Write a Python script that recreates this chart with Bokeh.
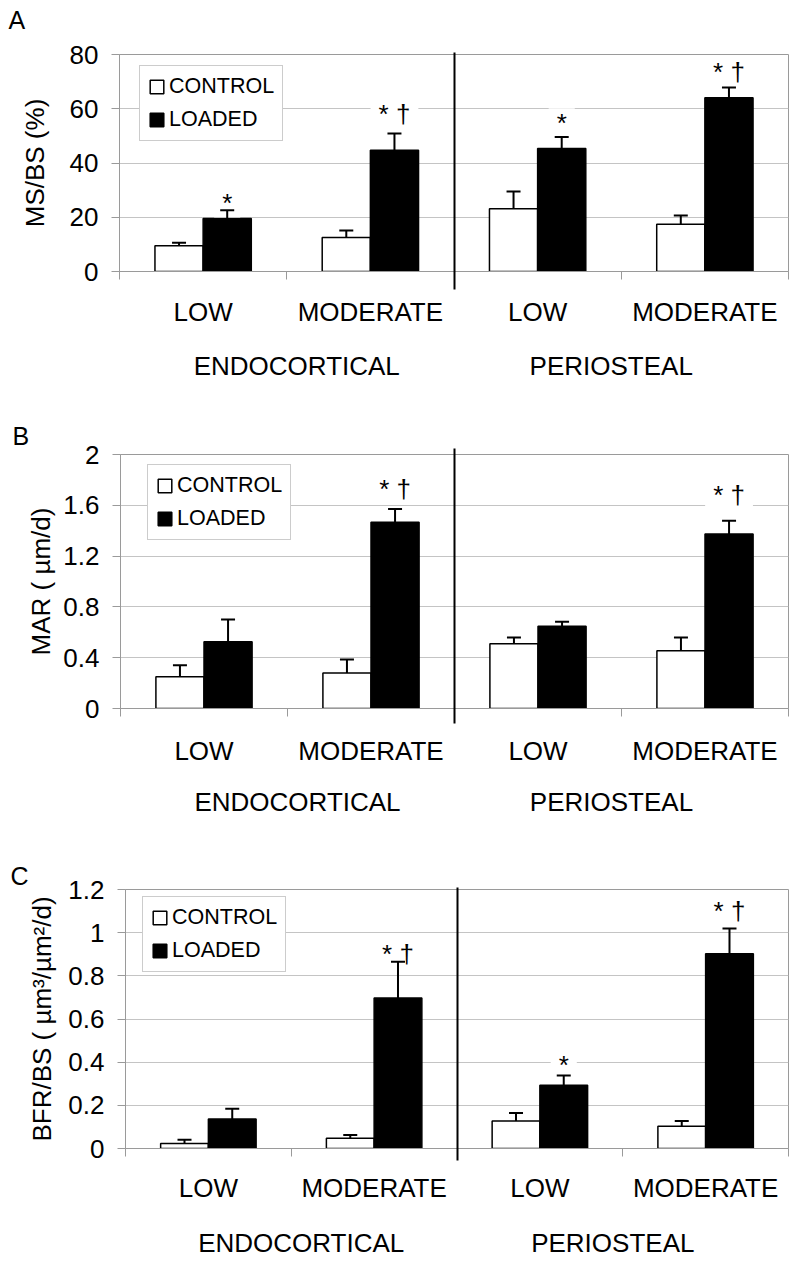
from bokeh.plotting import figure
from bokeh.models import (ColumnDataSource, FixedTicker, Whisker, TeeHead,
                          Legend, LegendItem, Range1d, LinearAxis)
from bokeh.embed import file_html
from bokeh.resources import INLINE
from bokeh.core.properties import value

FONT = "Liberation Sans"
GREY = "#9a9a9a"

# ---------------- data ----------------
locations = ["ENDOCORTICAL", "PERIOSTEAL"]
intensities = ["LOW", "MODERATE"]
groups = ["CONTROL", "LOADED"]
bar_labels = ["LOW", "MODERATE", "LOW", "MODERATE"]

# Panel A: MS/BS (%)
msbs_control = [9.5, 12.5, 23.1, 17.4]
msbs_control_err = [1.1, 2.6, 6.4, 3.2]
msbs_loaded = [19.5, 44.7, 45.3, 64.1]
msbs_loaded_err = [3.1, 6.2, 4.3, 3.7]
msbs_ticks = [0, 20, 40, 60, 80]
msbs_tick_labels = ["0", "20", "40", "60", "80"]
msbs_mark_idx = [0, 1, 2, 3]
msbs_marks = ["*", "* †", "*", "* †"]
msbs_mark_y = [27.3, 60.1, 56.9, 75.9]

# Panel B: MAR (um/d)
mar_control = [0.25, 0.28, 0.51, 0.455]
mar_control_err = [0.09, 0.105, 0.05, 0.105]
mar_loaded = [0.525, 1.466, 0.647, 1.374]
mar_loaded_err = [0.175, 0.105, 0.037, 0.105]
mar_ticks = [0, 0.4, 0.8, 1.2, 1.6, 2]
mar_tick_labels = ["0", "0.4", "0.8", "1.2", "1.6", "2"]
mar_mark_idx = [1, 3]
mar_marks = ["* †", "* †"]
mar_mark_y = [1.774, 1.729]

# Panel C: BFR/BS
bfr_control = [0.023, 0.048, 0.127, 0.103]
bfr_control_err = [0.017, 0.015, 0.038, 0.024]
bfr_loaded = [0.137, 0.697, 0.293, 0.902]
bfr_loaded_err = [0.047, 0.168, 0.045, 0.117]
bfr_ticks = [0, 0.2, 0.4, 0.6, 0.8, 1.0, 1.2]
bfr_tick_labels = ["0", "0.2", "0.4", "0.6", "0.8", "1", "1.2"]
bfr_mark_idx = [1, 2, 3]
bfr_marks = ["* †", "*", "* †"]
bfr_mark_y = [0.927, 0.416, 1.126]

# group label positions (x, in category units)
location_x = [1.06, 2.94]


def make_panel(letter, ylabel, control, control_err, loaded, loaded_err,
               ticks, tick_labels, mark_idx, marks, mark_y,
               height, border_left, border_top, border_bottom, frame_h,
               label_standoff, legend_loc, div_below, div_above,
               title_offset, title_standoff, title_spacer,
               cat_standoff, loc_standoff):
    ymax = ticks[-1]
    p = figure(width=800, height=height, output_backend="svg", toolbar_location=None,
               x_range=Range1d(0, 4), y_range=Range1d(0, ymax),
               min_border_left=border_left, min_border_right=12,
               min_border_top=border_top, min_border_bottom=border_bottom)
    p.outline_line_color = GREY
    p.outline_line_width = 1
    p.background_fill_color = "white"
    p.xgrid.visible = False
    p.ygrid.grid_line_color = "#c4c4c4"
    p.ygrid.grid_line_width = 1

    # default axes (grab them before adding extra ones)
    xa = p.below[0]
    ya = p.left[0]

    # panel letter
    p.title.text = letter
    p.title.text_font = FONT
    p.title.text_font_size = "25px"
    p.title.text_font_style = "normal"
    p.title.text_color = "black"
    p.title.align = "left"
    p.title.offset = title_offset
    p.title.standoff = title_standoff
    if title_spacer:
        # invisible axis that lifts the panel letter away from the frame
        spacer = LinearAxis(ticker=FixedTicker(ticks=[2]), major_label_overrides={2: ""},
                            major_tick_out=title_spacer, major_tick_in=0,
                            axis_line_color=None, major_tick_line_color=None,
                            minor_tick_line_color=None,
                            major_label_text_font_size="1px", major_label_standoff=0)
        p.add_layout(spacer, "above")

    # y axis
    ya.ticker = FixedTicker(ticks=ticks)
    ya.major_label_overrides = {t: s for t, s in zip(ticks, tick_labels)}
    ya.axis_label = ylabel
    ya.axis_label_text_font = FONT
    ya.axis_label_text_font_size = "26px"
    ya.axis_label_text_font_style = "normal"
    ya.axis_label_text_color = "black"
    ya.axis_label_standoff = label_standoff
    ya.major_label_text_font = FONT
    ya.major_label_text_font_size = "26px"
    ya.major_label_text_color = "black"
    ya.major_label_standoff = 13
    ya.axis_line_color = GREY
    ya.major_tick_line_color = GREY
    ya.major_tick_out = 8
    ya.major_tick_in = 0
    ya.minor_tick_line_color = None

    # x axis: grey boundary ticks (minor) + black divider (major tick through the frame)
    xa.ticker = FixedTicker(ticks=[2], minor_ticks=[0, 1, 3, 4])
    xa.major_label_overrides = {2: ""}
    xa.major_label_text_font_size = "1px"
    xa.major_label_standoff = 0
    xa.axis_line_color = GREY
    xa.major_tick_line_color = "black"
    xa.major_tick_line_width = 2
    xa.major_tick_out = div_below
    xa.major_tick_in = frame_h + div_above
    xa.minor_tick_line_color = GREY
    xa.minor_tick_out = 8
    xa.minor_tick_in = 0

    centers = [i + 0.5 for i in range(len(control))]

    # category labels (LOW / MODERATE)
    xc = LinearAxis(ticker=FixedTicker(ticks=centers),
                    major_label_overrides={c: s for c, s in zip(centers, bar_labels)},
                    major_label_text_font=FONT, major_label_text_font_size="26px",
                    major_label_text_color="black", major_label_standoff=cat_standoff,
                    major_tick_out=0, major_tick_in=0, axis_line_color=None,
                    major_tick_line_color=None, minor_tick_line_color=None)
    p.add_layout(xc, "below")
    # location labels
    xl = LinearAxis(ticker=FixedTicker(ticks=location_x),
                    major_label_overrides={c: s for c, s in zip(location_x, locations)},
                    major_label_text_font=FONT, major_label_text_font_size="26px",
                    major_label_text_color="black", major_label_standoff=loc_standoff,
                    major_tick_out=0, major_tick_in=0, axis_line_color=None,
                    major_tick_line_color=None, minor_tick_line_color=None)
    p.add_layout(xl, "below")

    half = 0.144
    # significance marks (drawn under the bars, white box hides the grid lines)
    src_m = ColumnDataSource(dict(
        x=[centers[i] + half for i in mark_idx], y=mark_y, text=marks))
    p.text(x="x", y="y", text="text", source=src_m,
           text_font=value(FONT), text_font_size="26px", text_color="black",
           text_align="center", text_baseline="middle", y_offset=6,
           background_fill_color="white",
           padding=dict(left=8, right=8, top=0, bottom=0))

    src_c = ColumnDataSource(dict(
        x=[c - half for c in centers], top=control,
        upper=[v + e for v, e in zip(control, control_err)]))
    src_l = ColumnDataSource(dict(
        x=[c + half for c in centers], top=loaded,
        upper=[v + e for v, e in zip(loaded, loaded_err)]))

    r_c = p.vbar(x="x", top="top", bottom=0, width=2 * half, source=src_c,
                 fill_color="white", line_color="black", line_width=1.5)
    r_l = p.vbar(x="x", top="top", bottom=0, width=2 * half, source=src_l,
                 fill_color="black", line_color="black", line_width=1.5)

    for src in (src_c, src_l):
        w = Whisker(source=src, base="x", lower="top", upper="upper",
                    dimension="height", line_color="black", line_width=2,
                    upper_head=TeeHead(size=14, line_color="black", line_width=2),
                    lower_head=None, level="annotation")
        p.add_layout(w)

    legend = Legend(items=[LegendItem(label=groups[0], renderers=[r_c]),
                           LegendItem(label=groups[1], renderers=[r_l])],
                    location=legend_loc, orientation="vertical",
                    label_text_font=FONT, label_text_font_size="21.5px",
                    label_text_color="black",
                    glyph_width=17, glyph_height=17, label_height=17,
                    label_standoff=4, spacing=8, padding=8, margin=0,
                    border_line_color=GREY, border_line_width=1,
                    background_fill_color="white", background_fill_alpha=1)
    p.add_layout(legend)
    return p


pA = make_panel("A", "MS/BS (%)", msbs_control, msbs_control_err, msbs_loaded, msbs_loaded_err,
                msbs_ticks, msbs_tick_labels, msbs_mark_idx, msbs_marks, msbs_mark_y,
                height=410, border_left=119, border_top=54, border_bottom=139, frame_h=217,
                label_standoff=17, legend_loc=(20, 130), div_below=18, div_above=2,
                title_offset=-111, title_standoff=0, title_spacer=21,
                cat_standoff=7, loc_standoff=21)
pB = make_panel("B", "MAR ( µm/d)", mar_control, mar_control_err, mar_loaded, mar_loaded_err,
                mar_ticks, mar_tick_labels, mar_mark_idx, mar_marks, mar_mark_y,
                height=425, border_left=120, border_top=44, border_bottom=127, frame_h=254,
                label_standoff=4, legend_loc=(27, 168), div_below=15, div_above=6,
                title_offset=-108, title_standoff=10, title_spacer=0,
                cat_standoff=12, loc_standoff=18)
pC = make_panel("C", "BFR/BS ( µm³/µm²/d)", bfr_control, bfr_control_err, bfr_loaded, bfr_loaded_err,
                bfr_ticks, bfr_tick_labels, bfr_mark_idx, bfr_marks, bfr_mark_y,
                height=429, border_left=125, border_top=54, border_bottom=116, frame_h=259,
                label_standoff=8, legend_loc=(17, 176), div_below=12, div_above=2,
                title_offset=-115, title_standoff=0, title_spacer=0,
                cat_standoff=12, loc_standoff=22)

# three independent roots stacked vertically (keeps each panel's own frame position)
open("out.html", "w").write(file_html([pA, pB, pC], INLINE))
